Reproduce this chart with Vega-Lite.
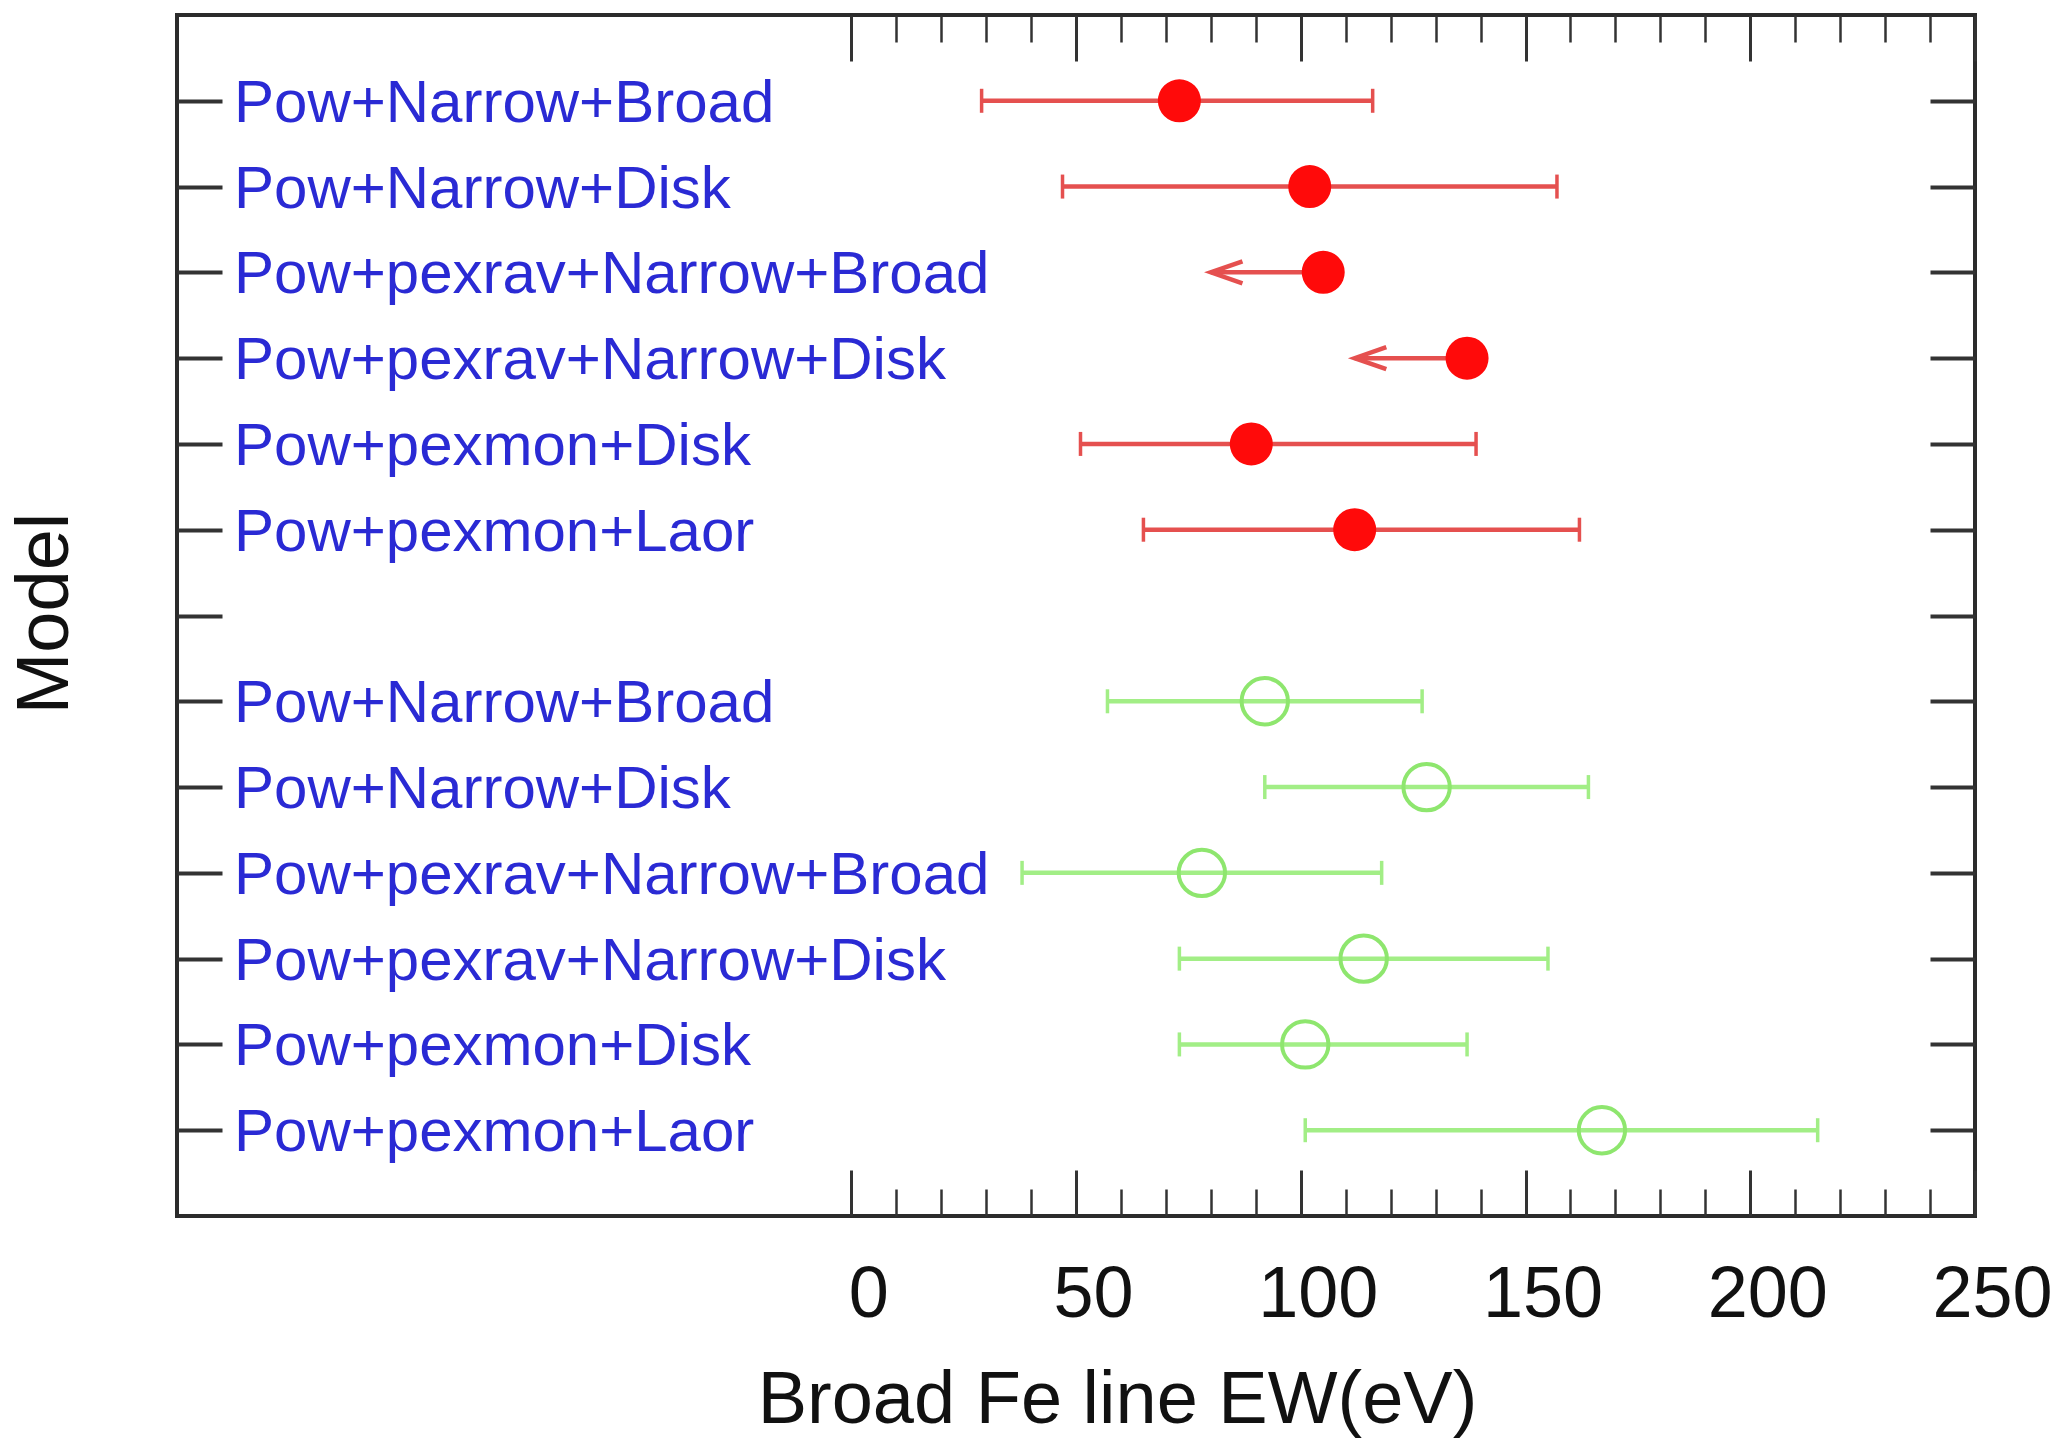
{
  "$schema": "https://vega.github.io/schema/vega-lite/v6.json",
  "width": 1798,
  "height": 1201,
  "autosize": {"type": "none"},
  "padding": {"left": 177, "top": 15, "right": 84, "bottom": 228},
  "background": "white",
  "config": {
    "view": {"stroke": "#2b2b2b", "strokeWidth": 4},
    "font": "Liberation Sans",
    "axis": {
      "domain": false,
      "grid": false,
      "labelFont": "Liberation Sans",
      "titleFont": "Liberation Sans",
      "titleFontWeight": "normal",
      "tickColor": "#333333",
      "labelColor": "#111111",
      "titleColor": "#111111"
    }
  },
  "data": {
    "values": [
      {"set": "filled", "row": 1, "model": "Pow+Narrow+Broad", "ew": 73, "lo": 29, "hi": 116, "limit": false},
      {"set": "filled", "row": 2, "model": "Pow+Narrow+Disk", "ew": 102, "lo": 47, "hi": 157, "limit": false},
      {"set": "filled", "row": 3, "model": "Pow+pexrav+Narrow+Broad", "ew": 105, "lo": 80, "hi": null, "limit": true},
      {"set": "filled", "row": 4, "model": "Pow+pexrav+Narrow+Disk", "ew": 137, "lo": 112, "hi": null, "limit": true},
      {"set": "filled", "row": 5, "model": "Pow+pexmon+Disk", "ew": 89, "lo": 51, "hi": 139, "limit": false},
      {"set": "filled", "row": 6, "model": "Pow+pexmon+Laor", "ew": 112, "lo": 65, "hi": 162, "limit": false},
      {"set": "open", "row": 8, "model": "Pow+Narrow+Broad", "ew": 92, "lo": 57, "hi": 127, "limit": false},
      {"set": "open", "row": 9, "model": "Pow+Narrow+Disk", "ew": 128, "lo": 92, "hi": 164, "limit": false},
      {"set": "open", "row": 10, "model": "Pow+pexrav+Narrow+Broad", "ew": 78, "lo": 38, "hi": 118, "limit": false},
      {"set": "open", "row": 11, "model": "Pow+pexrav+Narrow+Disk", "ew": 114, "lo": 73, "hi": 155, "limit": false},
      {"set": "open", "row": 12, "model": "Pow+pexmon+Disk", "ew": 101, "lo": 73, "hi": 137, "limit": false},
      {"set": "open", "row": 13, "model": "Pow+pexmon+Laor", "ew": 167, "lo": 101, "hi": 215, "limit": false}
    ]
  },
  "layer": [
    {
      "transform": [{"filter": "!datum.limit"}],
      "mark": {"type": "rule", "strokeWidth": 4.5},
      "encoding": {
        "x": {
          "field": "lo", "type": "quantitative",
          "scale": {"domain": [-150, 250], "nice": false, "zero": false},
          "axis": {
            "values": [0, 50, 100, 150, 200, 250],
            "ticks": false,
            "labelFontSize": 72,
            "labelPadding": 100,
            "labelBaseline": "alphabetic",
            "labelOffset": 17,
            "labelFlush": false,
            "labelOverlap": false,
            "title": "Broad Fe line EW(eV)",
            "titleFontSize": 74,
            "titleX": 940,
            "titleY": 206,
            "titleBaseline": "alphabetic",
            "titleAlign": "center"
          }
        },
        "x2": {"field": "hi"},
        "y": {
          "field": "row", "type": "quantitative",
          "scale": {"domain": [0, 14], "reverse": true, "nice": false, "zero": false},
          "axis": {
            "values": [1, 2, 3, 4, 5, 6, 7, 8, 9, 10, 11, 12, 13],
            "labels": false,
            "tickSize": -45,
            "tickWidth": 4,
            "title": "Model",
            "titleFontSize": 74,
            "titleX": -132,
            "titleY": 598,
            "titleAngle": -90,
            "titleBaseline": "middle",
            "titleAlign": "center"
          }
        },
        "color": {
          "field": "set", "type": "nominal",
          "scale": {"domain": ["filled", "open"], "range": ["#e5504f", "#a2ee86"]},
          "legend": null
        }
      }
    },
    {
      "transform": [{"filter": "datum.limit"}],
      "mark": {"type": "rule", "strokeWidth": 4.5},
      "encoding": {
        "x": {
          "field": "lo", "type": "quantitative",
          "scale": {"domain": [-150, 250], "nice": false, "zero": false},
          "axis": {
            "orient": "bottom",
            "values": [10, 20, 30, 40, 60, 70, 80, 90, 110, 120, 130, 140, 160, 170, 180, 190, 210, 220, 230, 240],
            "labels": false,
            "tickSize": -27,
            "tickWidth": 2.5,
            "title": null
          }
        },
        "x2": {"field": "ew"},
        "y": {
          "field": "row", "type": "quantitative",
          "scale": {"domain": [0, 14], "reverse": true, "nice": false, "zero": false},
          "axis": {
            "orient": "right",
            "values": [1, 2, 3, 4, 5, 6, 7, 8, 9, 10, 11, 12, 13],
            "labels": false,
            "tickSize": -45,
            "tickWidth": 4,
            "title": null
          }
        },
        "color": {"field": "set", "type": "nominal", "legend": null}
      }
    },
    {
      "transform": [{"filter": "!datum.limit"}],
      "mark": {"type": "tick", "orient": "vertical", "size": 24, "thickness": 3.5, "opacity": 1},
      "encoding": {
        "x": {
          "field": "lo", "type": "quantitative",
          "scale": {"domain": [-150, 250], "nice": false, "zero": false},
          "axis": {
            "orient": "top",
            "values": [0, 50, 100, 150, 200, 250],
            "labels": false,
            "tickSize": -46,
            "tickWidth": 3,
            "title": null
          }
        },
        "y": {"field": "row", "type": "quantitative", "axis": null},
        "color": {"field": "set", "type": "nominal", "legend": null}
      }
    },
    {
      "transform": [{"filter": "!datum.limit"}],
      "mark": {"type": "tick", "orient": "vertical", "size": 24, "thickness": 3.5, "opacity": 1},
      "encoding": {
        "x": {
          "field": "hi", "type": "quantitative",
          "scale": {"domain": [-150, 250], "nice": false, "zero": false},
          "axis": {
            "orient": "top",
            "values": [10, 20, 30, 40, 60, 70, 80, 90, 110, 120, 130, 140, 160, 170, 180, 190, 210, 220, 230, 240],
            "labels": false,
            "tickSize": -27,
            "tickWidth": 2.5,
            "title": null
          }
        },
        "y": {"field": "row", "type": "quantitative", "axis": null},
        "color": {"field": "set", "type": "nominal", "legend": null}
      }
    },
    {
      "transform": [{"filter": "datum.limit"}],
      "mark": {
        "type": "point",
        "shape": "M2,-0.7L0,0L2,0.7",
        "size": 1000,
        "filled": false,
        "strokeWidth": 4.5,
        "opacity": 1,
        "color": "#e5504f"
      },
      "encoding": {
        "x": {
          "field": "lo", "type": "quantitative",
          "scale": {"domain": [-150, 250], "nice": false, "zero": false},
          "axis": {
            "orient": "bottom",
            "values": [0, 50, 100, 150, 200, 250],
            "labels": false,
            "tickSize": -46,
            "tickWidth": 3,
            "title": null
          }
        },
        "y": {"field": "row", "type": "quantitative", "axis": null}
      }
    },
    {
      "transform": [{"filter": "datum.set === 'filled'"}],
      "mark": {"type": "point", "shape": "circle", "filled": true, "size": 1850, "opacity": 1, "color": "#ff0a0a"},
      "encoding": {
        "x": {"field": "ew", "type": "quantitative", "axis": null},
        "y": {"field": "row", "type": "quantitative", "axis": null}
      }
    },
    {
      "transform": [{"filter": "datum.set === 'open'"}],
      "mark": {"type": "point", "shape": "circle", "filled": false, "size": 2150, "opacity": 1, "strokeWidth": 4, "color": "#8ee66e"},
      "encoding": {
        "x": {"field": "ew", "type": "quantitative", "axis": null},
        "y": {"field": "row", "type": "quantitative", "axis": null}
      }
    },
    {
      "mark": {
        "type": "text",
        "align": "left",
        "baseline": "alphabetic",
        "dx": 57,
        "dy": 21,
        "fontSize": 60,
        "font": "Liberation Sans",
        "color": "#2a2ad4"
      },
      "encoding": {
        "x": {"datum": -150, "type": "quantitative", "axis": null},
        "y": {"field": "row", "type": "quantitative", "axis": null},
        "text": {"field": "model"}
      }
    }
  ],
  "resolve": {"axis": {"x": "independent", "y": "independent"}}
}
